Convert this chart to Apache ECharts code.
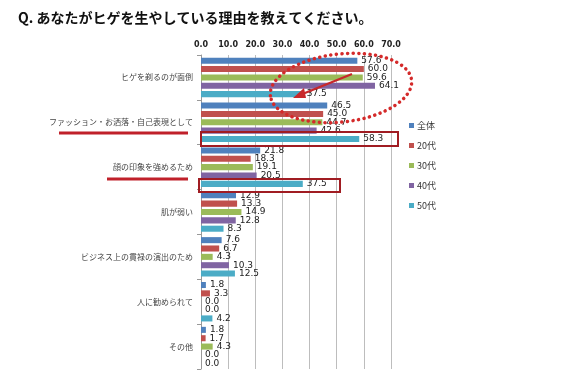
<!DOCTYPE html>
<html><head><meta charset="utf-8">
<script src="https://cdn.jsdelivr.net/npm/echarts@6/dist/echarts.min.js"></script>
<style>html,body{margin:0;padding:0;background:#fff}#c{width:564px;height:380px}</style>
</head><body><div id="c"></div>
<script>
const title = 'Q. あなたがヒゲを生やしている理由を教えてください。';
const categories = ['ヒゲを剃るのが面倒','ファッション・お洒落・自己表現として','顔の印象を強めるため','肌が弱い','ビジネス上の貫禄の演出のため','人に勧められて','その他'];
const seriesNames = ['全体','20代','30代','40代','50代'];
const allAges = [57.6, 46.5, 21.8, 12.9, 7.6, 1.8, 1.8];
const age20 = [60.0, 45.0, 18.3, 13.3, 6.7, 3.3, 1.7];
const age30 = [59.6, 44.7, 19.1, 14.9, 4.3, 0.0, 4.3];
const age40 = [64.1, 42.6, 20.5, 12.8, 10.3, 0.0, 0.0];
const age50 = [37.5, 58.3, 37.5, 8.3, 12.5, 4.2, 0.0];
const colors = ['#4F81BD','#C0504D','#9BBB59','#8064A2','#4BACC6'];
const values = [allAges, age20, age30, age40, age50];

const font = '"Noto Sans CJK JP", sans-serif';
const chart = echarts.init(document.getElementById('c'));
chart.setOption({
  animation: false,
  color: colors,
  textStyle: {fontFamily: font},
  grid: {left: 201, right: 173, top: 55, bottom: 11},
  xAxis: {
    type: 'value', position: 'top', min: 0, max: 70, interval: 10,
    axisLabel: {formatter: v => v.toFixed(1), fontSize: 8, color: '#222', fontWeight: 'bold', margin: 6, fontFamily: 'DejaVu Sans'},
    axisLine: {show: false}, axisTick: {show: false},
    splitLine: {lineStyle: {color: '#bdbdbd', width: 1}}
  },
  yAxis: {
    type: 'category', data: categories, inverse: true,
    axisLine: {lineStyle: {color: '#999'}},
    axisTick: {show: true, length: 4, lineStyle: {color: '#999'}},
    axisLabel: {fontSize: 8, color: '#444', margin: 8}
  },
  legend: {
    orient: 'vertical', left: 404, top: 116, itemWidth: 5, itemHeight: 5, itemGap: 11,
    icon: 'rect', data: seriesNames,
    textStyle: {fontSize: 9, color: '#333', padding: [0,0,0,-2]}
  },
  series: seriesNames.map((n, i) => ({
    name: n, type: 'bar', data: values[i],
    barGap: '38%', barCategoryGap: '12%',
    label: {show: true, position: 'right', distance: 4, fontSize: 9, color: '#222', formatter: p => p.value.toFixed(1), fontFamily: 'DejaVu Sans'}
  })),
  graphic: [
    {type: 'text', left: 18, top: 11, style: {text: title, font: 'bold 14px ' + font, fill: '#111'}},
    {type: 'ellipse', shape: {cx: 0, cy: 0, rx: 71, ry: 34}, x: 341, y: 88, rotation: 0.11,
      style: {fill: 'none', stroke: '#D42A2A', lineWidth: 3.5, lineDash: [0.1, 5.5], lineCap: 'round'}, z: 100},
    {type: 'line', shape: {x1: 352, y1: 74, x2: 300, y2: 95}, style: {stroke: '#C8282A', lineWidth: 2.2}, z: 100},
    {type: 'polygon', shape: {points: [[293, 98], [304, 88], [306, 98]]}, style: {fill: '#C8282A'}, z: 100},
    {type: 'rect', shape: {x: 201, y: 132, width: 197, height: 14}, style: {fill: 'none', stroke: '#A01C22', lineWidth: 2}, z: 100},
    {type: 'rect', shape: {x: 199, y: 179, width: 141, height: 13}, style: {fill: 'none', stroke: '#A01C22', lineWidth: 2}, z: 100},
    {type: 'line', shape: {x1: 59, y1: 133, x2: 188, y2: 133}, style: {stroke: '#C0202A', lineWidth: 3}, z: 100},
    {type: 'line', shape: {x1: 107, y1: 179, x2: 188, y2: 179}, style: {stroke: '#C0202A', lineWidth: 3}, z: 100}
  ]
});
</script></body></html>
